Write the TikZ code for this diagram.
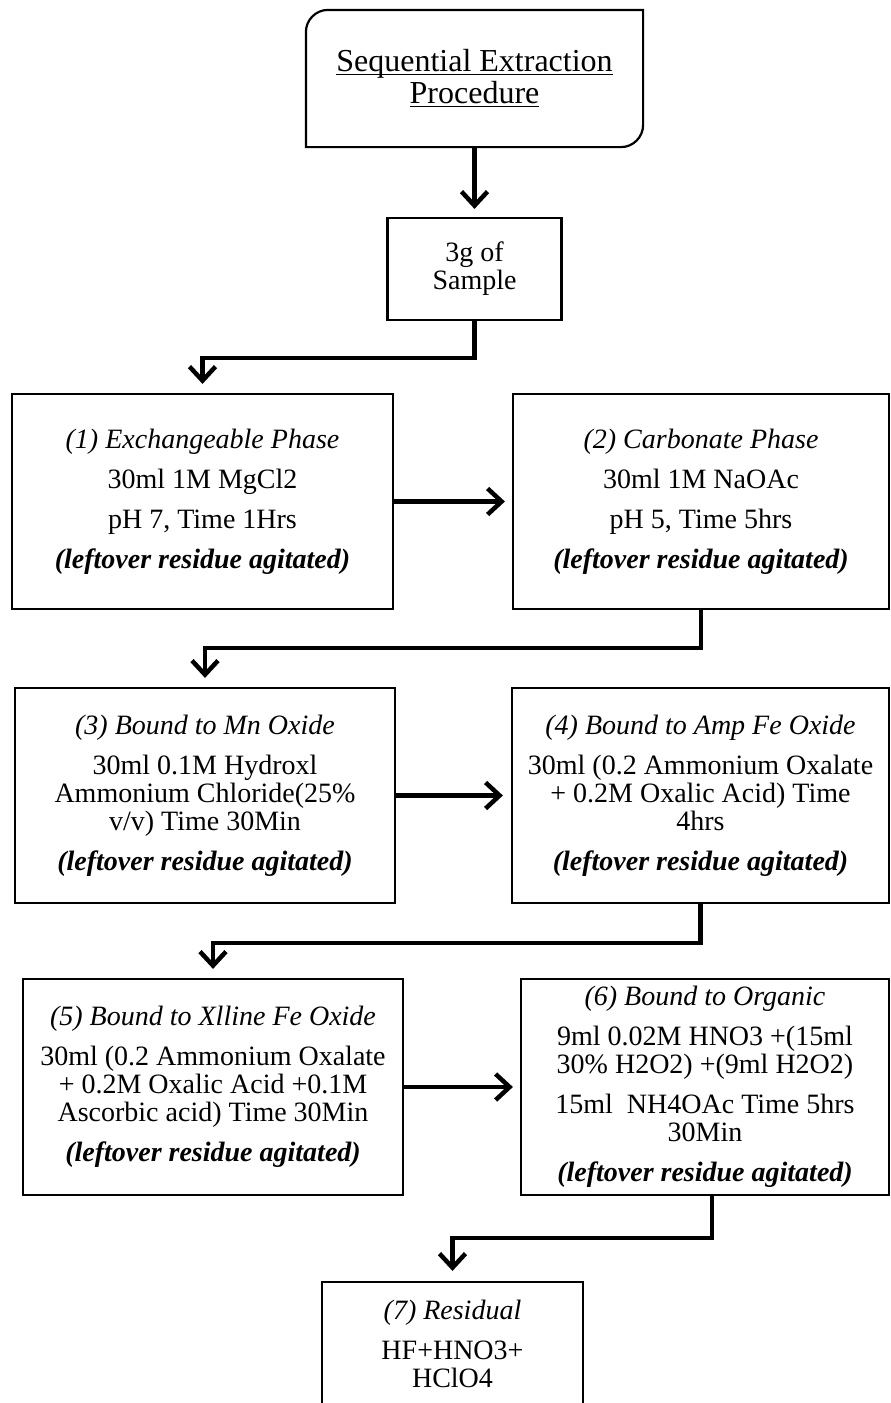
\documentclass[tikz,border=0pt]{standalone}
\usepackage{fontspec}
\setmainfont{Liberation Serif}
\usetikzlibrary{arrows.meta}
\newcommand\ulx[1]{\setbox0=\hbox{#1}\rlap{\rule[-3.5pt]{\wd0}{1.6pt}}\box0}
\tikzset{
  stepbox/.style={draw, line width=2.2pt, inner sep=0pt, align=center,
    font=\fontsize{28}{28}\selectfont},
  conn/.style={line width=4.5pt, -{Straight Barb[length=14pt,width=26pt]}},
}
\begin{document}
\begin{tikzpicture}[x=1pt,y=-1pt]
\fill[white] (0,0) rectangle (891,1403);
\useasboundingbox (0,0) rectangle (891,1403);

% title box (rounded top-left and bottom-right)
\node[stepbox, draw=none, minimum width=335pt, minimum height=135pt,
  font=\fontsize{32}{32}\selectfont] (top) at (474.5,78.5)
  {\ulx{Sequential Extraction}\\\ulx{Procedure}};
\draw[line width=2.2pt] (top.north) -- (top.north east) -- ([yshift=22pt]top.south east)
  .. controls ([yshift=10pt]top.south east) and ([xshift=-10pt]top.south east)
  .. ([xshift=-22pt]top.south east) -- (top.south west)
  -- ([yshift=-22pt]top.north west)
  .. controls ([yshift=-10pt]top.north west) and ([xshift=10pt]top.north west)
  .. ([xshift=22pt]top.north west) -- cycle;

\node[stepbox, minimum width=174pt, minimum height=102pt] (sample) at (474.5,269)
  {3g of\\Sample};

\node[stepbox, minimum width=381pt, minimum height=215pt] (b1) at (202.5,501.5)
  {\itshape (1) Exchangeable Phase\\[12pt]30ml 1M MgCl2\\[12pt]pH 7, Time 1Hrs\\[12pt]\bfseries\itshape (leftover residue agitated)};

\node[stepbox, minimum width=376pt, minimum height=215pt] (b2) at (701,501.5)
  {\itshape (2) Carbonate Phase\\[12pt]30ml 1M NaOAc\\[12pt]pH 5, Time 5hrs\\[12pt]\bfseries\itshape (leftover residue agitated)};

\node[stepbox, minimum width=380pt, minimum height=215pt] (b3) at (205,795.5)
  {\itshape (3) Bound to Mn Oxide\\[12pt]30ml 0.1M Hydroxl\\Ammonium Chloride(25\%\\v/v) Time 30Min\\[12pt]\bfseries\itshape (leftover residue agitated)};

\node[stepbox, minimum width=377pt, minimum height=215pt] (b4) at (700.5,795.5)
  {\itshape (4) Bound to Amp Fe Oxide\\[12pt]30ml (0.2 Ammonium Oxalate\\+ 0.2M Oxalic Acid) Time\\4hrs\\[12pt]\bfseries\itshape (leftover residue agitated)};

\node[stepbox, minimum width=380pt, minimum height=216pt] (b5) at (213,1087)
  {\itshape (5) Bound to Xlline Fe Oxide\\[12pt]30ml (0.2 Ammonium Oxalate\\+ 0.2M Oxalic Acid +0.1M\\Ascorbic acid) Time 30Min\\[12pt]\bfseries\itshape (leftover residue agitated)};

\node[stepbox, minimum width=368pt, minimum height=216pt] (b6) at (705,1087)
  {\itshape (6) Bound to Organic\\[12pt]9ml 0.02M HNO3 +(15ml\\30\% H2O2) +(9ml H2O2)\\[12pt]15ml\ \ NH4OAc Time 5hrs\\30Min\\[12pt]\bfseries\itshape (leftover residue agitated)};

\node[stepbox, minimum width=261pt, minimum height=124pt] (b7) at (452.5,1344)
  {\itshape (7) Residual\\[12pt]HF+HNO3+\\HClO4};

% connectors
\draw[conn, shorten >=8pt] (top.south) -- (sample.north);
\draw[conn, shorten >=9pt] (sample.south) -- ++(0,37) -| (b1.north);
\draw[conn, shorten >=7pt] (b1.east) -- (b2.west);
\draw[conn, shorten >=9pt] (b2.south) -- ++(0,38) -| (b3.north);
\draw[conn, shorten >=8pt] (b3.east) -- (b4.west);
\draw[conn, shorten >=9pt] (b4.south) -- ++(0,39) -| (b5.north);
\draw[conn, shorten >=7pt] (b5.east) -- (b6.west);
\draw[conn, shorten >=10pt] ([xshift=7pt]b6.south) -- ++(0,42) -| (b7.north);
\end{tikzpicture}
\end{document}
